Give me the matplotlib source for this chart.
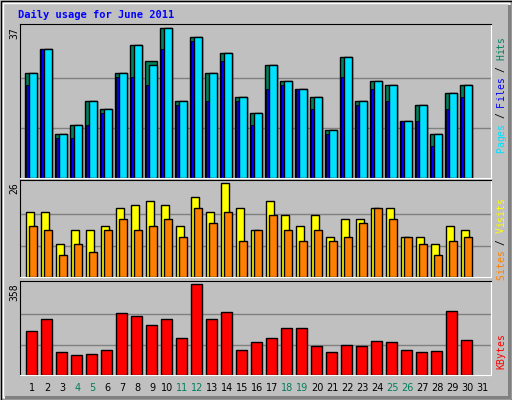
import matplotlib
matplotlib.use("Agg")
import matplotlib.pyplot as plt
from matplotlib.patches import Rectangle

days = list(range(1, 32))
hits  = [26,32,11,13,19,17,26,33,29,37,19,35,26,31,20,16,28,24,22,20,12,30,19,24,23,14,18,11,21,23]
files = [26,32,11,13,19,17,26,33,28,37,19,35,26,31,20,16,28,24,22,20,12,30,19,24,23,14,18,11,21,23]
pages = [23,32,10,10,13,16,25,25,23,32,18,34,19,29,19,13,22,23,22,17,11,25,18,22,19,14,14,8,17,20]
visits = [18,18,9,13,13,14,19,20,21,20,14,22,18,26,19,13,21,17,14,17,11,16,16,19,19,11,11,9,14,13]
sites  = [14,13,6,9,7,13,16,13,14,16,11,19,15,18,10,13,17,13,10,13,10,11,15,19,16,11,9,6,10,11]
kbytes = [173,220,90,79,83,98,244,232,197,220,146,358,220,248,98,130,146,185,185,114,90,118,114,134,130,98,90,94,252,138]
weekend = [4,5,11,12,18,19,25,26]

W, H = 512, 400
fig = plt.figure(figsize=(W/100, H/100), dpi=100)
fig.patch.set_facecolor('#c0c0c0')
fig.patches.append(Rectangle((0.5/W, 0.5/H), (W-1)/W, (H-1)/H, transform=fig.transFigure,
                             fill=False, ec='black', lw=1))
fig.patches.append(Rectangle((3/W, 3/H), (W-6)/W, (H-6)/H, transform=fig.transFigure,
                             fill=False, ec='white', lw=1))
fig.patches.append(Rectangle((5/W, 1.5/H), (W-7)/W, 3/H, transform=fig.transFigure,
                             fill=True, fc='#808080', ec='none'))
fig.patches.append(Rectangle((W-4.5, 1.5), 3, H-6, transform=None,
                             fill=True, fc='#808080', ec='none'))

mono = 'DejaVu Sans Mono'
fig.text(18/W, 1-15/H, 'Daily usage for June 2011', color='#0000ff', fontsize=7.5,
         fontweight='bold', family=mono, va='center', ha='left')

def mkax(top, bottom):
    ax = fig.add_axes([20/W, 1-bottom/H, 471/W, (bottom-top)/H])
    ax.set_facecolor('#c0c0c0')
    ax.set_xlim(0.267, 31.67)
    ax.set_xticks([]); ax.set_yticks([])
    for s in ['top', 'left']:
        ax.spines[s].set_color('black')
    for s in ['bottom', 'right']:
        ax.spines[s].set_color('white')
    return ax

def ylab(txt, top):
    fig.text(14/W, 1-top/H, txt, rotation=90, fontsize=7, family=mono, ha='center', va='top')

kw = dict(edgecolor='black', linewidth=1, align='edge')
x = days[:30]

ax1 = mkax(24, 178)
mx1 = 37
ax1.set_ylim(0, mx1 * 1.03)
for g in (mx1/3, 2*mx1/3):
    ax1.axhline(g, color='#808080', lw=1, zorder=0)
ax1.bar([d-0.4 for d in x], hits, width=0.8, color='#00805c', **kw)
ax1.bar([d-0.32 for d in x], pages, width=0.17, color='#0000ff', edgecolor='black', linewidth=0.6, align='edge')
ax1.bar([d-0.13 for d in x], files, width=0.53, color='#00e0ff', **kw)
ylab('37', 27)

ax2 = mkax(180, 277)
mx2 = 26
ax2.set_ylim(0, mx2 * 1.03)
for g in (mx2/3, 2*mx2/3):
    ax2.axhline(g, color='#808080', lw=1, zorder=0)
ax2.bar([d-0.35 for d in x], visits, width=0.53, color='#ffff00', **kw)
ax2.bar([d-0.1 for d in x], sites, width=0.5, color='#ff8000', **kw)
ylab('26', 182)

ax3 = mkax(281, 375)
mx3 = 358
ax3.set_ylim(0, mx3 * 1.03)
for g in (mx3/3, 2*mx3/3):
    ax3.axhline(g, color='#808080', lw=1, zorder=0)
ax3.bar([d-0.3 for d in x], kbytes, width=0.67, color='#ff0000', **kw)
ylab('358', 283)

for d in days:
    ax3.text(d + 0.1, -0.14, str(d), transform=ax3.get_xaxis_transform(), ha='center', va='center',
             fontsize=7, family='DejaVu Sans', color='#00805c' if d in weekend else 'black')

def rlabel(parts, ycenter):
    n = sum(len(p) for p, c in parts)
    ch = 5.8
    ystart = ycenter + n*ch/2
    i = 0
    for p, c in parts:
        for chh in p:
            fig.text(501/W, 1-(ystart - i*ch - ch/2)/H, chh, rotation=90, color=c, fontsize=7,
                     family=mono, ha='center', va='center')
            i += 1

rlabel([('Pages', '#00e0ff'), (' / ', 'black'), ('Files', '#0000ff'), (' / ', 'black'), ('Hits', '#00805c')], 95)
rlabel([('Sites', '#ff8000'), (' / ', 'black'), ('Visits', '#ffff00')], 239)
rlabel([('KBytes', '#ff0000')], 352)

fig.savefig('out.png', dpi=100, facecolor=fig.get_facecolor())
